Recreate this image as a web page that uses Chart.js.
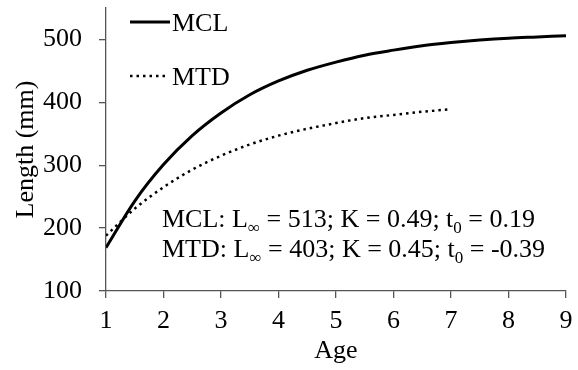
<!DOCTYPE html>
<html>
<head>
<meta charset="utf-8">
<script src="https://cdn.jsdelivr.net/npm/chart.js@4"></script>
<style>
  body { margin: 0; background: #fff; }
  #wrap { width: 578px; height: 370px; }
</style>
</head>
<body>
<div id="wrap"><canvas id="myChart" width="578" height="370"></canvas></div>
<script>
// values
const ages = [1, 1.5, 2, 2.5, 3, 3.5, 4, 4.5, 5, 5.5, 6, 6.5, 7, 7.5, 8, 8.5, 9]
const mclLength = [169, 243, 301, 347, 383, 412, 434, 451, 464, 475, 483, 490, 495, 499, 502, 504, 506]
const mtdAges = [1, 1.5, 2, 2.5, 3, 3.5, 4, 4.5, 5, 5.5, 6, 6.5, 7]
const mtdLength = [188, 231, 265, 293, 315, 333, 347, 358, 367, 375, 380, 385, 389]
const xTicks = [1, 2, 3, 4, 5, 6, 7, 8, 9]
const yTicks = [100, 200, 300, 400, 500]

const serif = '"Liberation Serif", "Times New Roman", serif'
const axisColor = '#555'
const fontSize = 26

// text with subscripts: parts = [[text, isSub], ...]
const drawParts = (ctx, parts, x, y) => {
  parts.forEach(p => {
    if (p[1]) {
      ctx.font = '17px ' + serif
      ctx.fillText(p[0], x, y + 6)
    } else {
      ctx.font = fontSize + 'px ' + serif
      ctx.fillText(p[0], x, y)
    }
    x += ctx.measureText(p[0]).width
  })
}

const extras = {
  id: 'extras',
  afterDraw(chart) {
    const ctx = chart.ctx
    const area = chart.chartArea
    ctx.save()
    ctx.fillStyle = '#000'
    ctx.strokeStyle = '#000'
    ctx.textBaseline = 'alphabetic'

    // legend
    ctx.lineWidth = 3
    ctx.beginPath(); ctx.moveTo(130, 22); ctx.lineTo(170, 22); ctx.stroke()
    ctx.lineWidth = 2.5
    ctx.setLineDash([2.5, 4])
    ctx.beginPath(); ctx.moveTo(130, 76); ctx.lineTo(166, 76); ctx.stroke()
    ctx.setLineDash([])
    ctx.font = fontSize + 'px ' + serif
    ctx.textAlign = 'left'
    ctx.fillText('MCL', 172, 31)
    ctx.fillText('MTD', 172, 85)

    // parameters
    drawParts(ctx, [['MCL: L', 0], ['\u221E', 1], [' = 513; K = 0.49; t', 0], ['0', 1], [' = 0.19', 0]], 162, 227)
    drawParts(ctx, [['MTD: L', 0], ['\u221E', 1], [' = 403; K = 0.45; t', 0], ['0', 1], [' = -0.39', 0]], 162, 257)

    // axis titles
    ctx.font = fontSize + 'px ' + serif
    ctx.textAlign = 'center'
    ctx.fillText('Age', (area.left + area.right) / 2, 358)
    ctx.translate(33, (area.top + area.bottom) / 2)
    ctx.rotate(-Math.PI / 2)
    ctx.fillText('Length (mm)', 0, 0)
    ctx.restore()
  }
}

const ctx = document.getElementById('myChart')

const myChart = new Chart(ctx, {
  type: 'line',
  data: {
    datasets: [
      {
        label: 'MCL',
        data: ages.map((a, i) => ({ x: a, y: mclLength[i] })),
        borderColor: '#000',
        borderWidth: 3,
        pointRadius: 0,
        cubicInterpolationMode: 'monotone'
      },
      {
        label: 'MTD',
        data: mtdAges.map((a, i) => ({ x: a, y: mtdLength[i] })),
        borderColor: '#000',
        borderWidth: 2.5,
        borderDash: [2.5, 4],
        pointRadius: 0,
        cubicInterpolationMode: 'monotone'
      }
    ]
  },
  options: {
    responsive: false,
    animation: false,
    layout: { padding: { top: 8, right: 12, left: 0, bottom: 0 } },
    plugins: { legend: { display: false }, tooltip: { enabled: false } },
    scales: {
      x: {
        type: 'linear',
        min: 1,
        max: 9,
        afterBuildTicks: s => { s.ticks = xTicks.map(v => ({ value: v })) },
        afterFit: s => { s.height = 79; s.paddingLeft = 0; s.paddingRight = 0 },
        border: { color: axisColor, width: 1.3 },
        grid: { drawOnChartArea: false, drawTicks: true, tickLength: 7, color: axisColor, lineWidth: 1.3 },
        ticks: { color: '#000', padding: 8, maxRotation: 0, font: { family: serif, size: fontSize } }
      },
      y: {
        min: 100,
        max: 550,
        afterBuildTicks: s => { s.ticks = yTicks.map(v => ({ value: v })) },
        afterFit: s => { s.width = 106; s.paddingTop = 0; s.paddingBottom = 0 },
        border: { color: axisColor, width: 1.3 },
        grid: { drawOnChartArea: false, drawTicks: true, tickLength: 7, color: axisColor, lineWidth: 1.3 },
        ticks: { color: '#000', padding: 17, font: { family: serif, size: fontSize } }
      }
    }
  },
  plugins: [extras]
})
</script>
</body>
</html>
